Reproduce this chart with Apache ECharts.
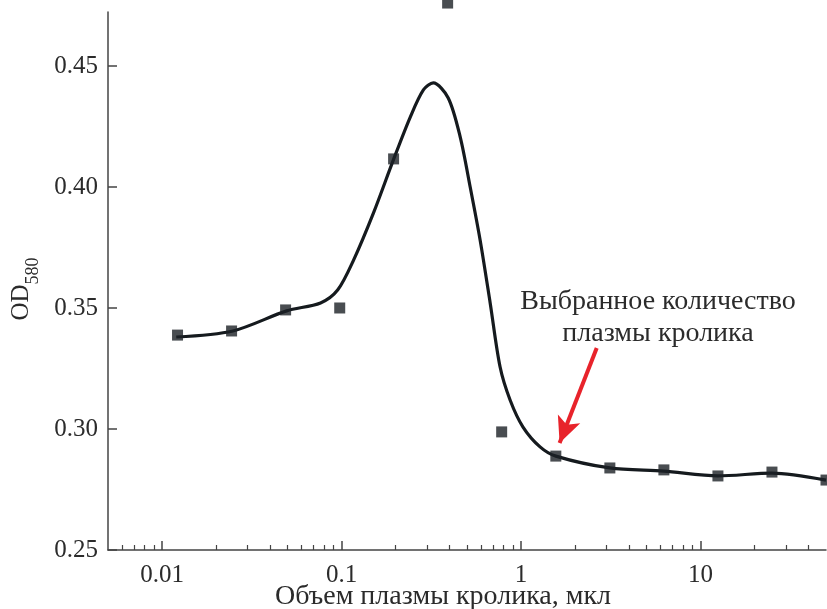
<!DOCTYPE html>
<html>
<head>
<meta charset="utf-8">
<script src="https://cdn.jsdelivr.net/npm/echarts@6/dist/echarts.min.js"></script>
<style>
  html, body { margin: 0; padding: 0; background: #fff; }
  #main { width: 827px; height: 609px; }
</style>
</head>
<body>
<div id="main"></div>
<script>
// измеренные точки (объем плазмы, мкл / OD580)
const pointX = [0.0122, 0.0244, 0.0488, 0.0977, 0.195, 0.39, 0.78, 1.5625, 3.125, 6.25, 12.5, 25, 50];
const pointY = [0.3388, 0.3405, 0.3492, 0.3500, 0.4116, 0.4760, 0.2988, 0.2888, 0.2839, 0.2831, 0.2806, 0.2822, 0.2789];

// сглаженная кривая
const curveX = [0.012, 0.0248, 0.0494, 0.0764, 0.0951, 0.1167, 0.1507, 0.1945, 0.2415, 0.2858, 0.3243, 0.393,
  0.4581, 0.5208, 0.5916, 0.673, 0.7645, 0.869, 1.0257, 1.2763, 1.563, 3.125, 6.25, 12.5, 25, 50];
const curveY = [0.3380, 0.3405, 0.3488, 0.3521, 0.3574, 0.3698, 0.3893, 0.4112, 0.4289, 0.4401, 0.4430, 0.4368,
  0.4207, 0.4000, 0.3781, 0.3521, 0.3256, 0.3120, 0.3008, 0.2926, 0.2888, 0.2839, 0.2826, 0.2806, 0.2818, 0.2789];

// оси
const xMajor = [0.01, 0.1, 1, 10];
const xMinor = [0.006, 0.007, 0.008, 0.009, 0.02, 0.03, 0.04, 0.05, 0.06, 0.07, 0.08, 0.09,
  0.2, 0.3, 0.4, 0.5, 0.6, 0.7, 0.8, 0.9, 2, 3, 4, 5, 6, 7, 8, 9, 20, 30, 40];
const xRange = [0.005, 50];
const yRange = [0.25, 0.4723];

// стрелка к выбранной точке
const arrowFrom = [2.64, 0.3335];
const arrowTo = [1.64, 0.2942];
const noteText = 'Выбранное количество\nплазмы кролика';

const lg = v => Math.log10(v);
const FONT = 'Liberation Serif';
const TXT = '#2b2b2b';
const AX = '#444';

const option = {
  animation: false,
  grid: { left: 108, right: 1, top: 12, bottom: 59, outerBoundsMode: 'none', containLabel: false },
  xAxis: [
    {
      type: 'value',
      min: lg(xRange[0]),
      max: lg(xRange[1]),
      axisLine: { onZero: false, lineStyle: { color: AX, width: 1.5 } },
      splitLine: { show: false },
      axisTick: { inside: true, length: 9, customValues: xMajor.map(lg), lineStyle: { color: AX, width: 1.5 } },
      axisLabel: {
        customValues: xMajor.map(lg),
        formatter: v => String(+Math.pow(10, v).toPrecision(3)),
        fontFamily: FONT, fontSize: 25, color: TXT, margin: 13
      },
      name: 'Объем плазмы кролика, мкл',
      nameLocation: 'middle',
      nameGap: 33,
      nameMoveOverlap: false,
      nameTextStyle: { fontFamily: FONT, fontSize: 28, color: TXT, padding: [0, 48, 0, 0] }
    },
    {
      type: 'value',
      position: 'bottom',
      min: lg(xRange[0]),
      max: lg(xRange[1]),
      axisLine: { show: false, onZero: false },
      splitLine: { show: false },
      axisLabel: { show: false },
      axisTick: { inside: true, length: 5, customValues: xMinor.map(lg), lineStyle: { color: AX, width: 1.2 } }
    }
  ],
  yAxis: {
    type: 'value',
    min: yRange[0],
    max: yRange[1],
    interval: 0.05,
    axisLine: { show: true, onZero: false, lineStyle: { color: AX, width: 1.5 } },
    splitLine: { show: false },
    axisTick: { inside: true, length: 9, lineStyle: { color: AX, width: 1.5 } },
    axisLabel: {
      formatter: v => v.toFixed(2),
      showMaxLabel: false,
      fontFamily: FONT, fontSize: 25, color: TXT, margin: 10
    },
    name: '{a|OD}{b|580}',
    nameLocation: 'middle',
    nameGap: 74,
    nameRotate: 90,
    nameMoveOverlap: false,
    nameTextStyle: {
      padding: [0, 16, 0, 0],
      rich: {
        a: { fontFamily: FONT, fontSize: 25, color: TXT, verticalAlign: 'bottom', lineHeight: 28 },
        b: { fontFamily: FONT, fontSize: 18, color: TXT, verticalAlign: 'bottom', lineHeight: 28, padding: [0, 0, -8, 0] }
      }
    }
  },
  graphic: [{
    type: 'text',
    x: 658,
    y: 286,
    style: {
      text: noteText,
      font: '28px "Liberation Serif"',
      fill: TXT,
      textAlign: 'center',
      lineHeight: 32
    }
  }],
  series: [
    {
      type: 'line',
      smooth: 0.3,
      showSymbol: false,
      data: curveX.map((x, i) => [lg(x), curveY[i]]),
      lineStyle: { color: '#151a1e', width: 3.2 },
      z: 2,
      markLine: {
        silent: true,
        symbol: ['none', 'arrow'],
        symbolSize: [18, 26],
        label: { show: false },
        lineStyle: { color: '#e8232b', width: 4, type: 'solid' },
        data: [[
          { coord: [lg(arrowFrom[0]), arrowFrom[1]] },
          { coord: [lg(arrowTo[0]), arrowTo[1]] }
        ]]
      }
    },
    {
      type: 'scatter',
      symbol: 'rect',
      symbolSize: 11,
      clip: false,
      data: pointX.map((x, i) => [lg(x), pointY[i]]),
      itemStyle: { color: '#1b2025' },
      z: 3
    }
  ]
};

const chart = echarts.init(document.getElementById('main'));
chart.setOption(option);
</script>
</body>
</html>
